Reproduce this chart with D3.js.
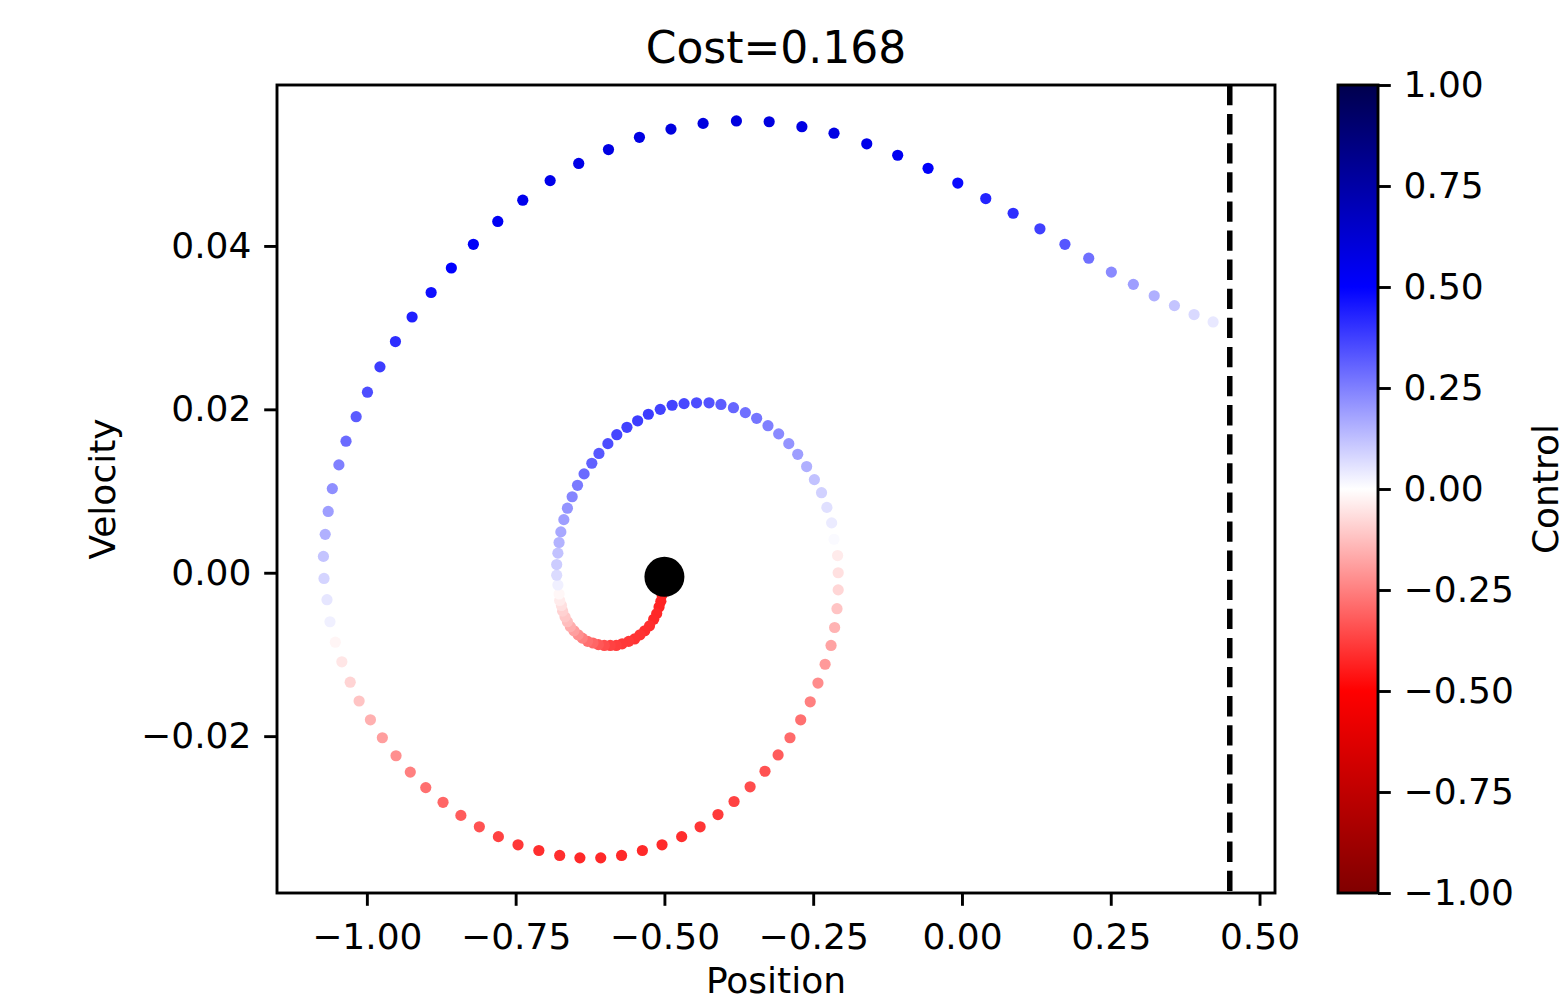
<!DOCTYPE html>
<html>
<head>
<meta charset="utf-8">
<script src="https://cdn.jsdelivr.net/npm/d3@7"></script>
<style>
body { margin: 0; background: #fff; }
text { font-family: "DejaVu Sans", sans-serif; fill: #000; }
</style>
</head>
<body>
<div id="chart"></div>
<script>
// trajectory: position, velocity, control per step
var positions = [
  -0.501, -0.501, -0.502, -0.502, -0.504, -0.506, -0.509, -0.513, -0.518, -0.525,
  -0.533, -0.541, -0.550, -0.560, -0.571, -0.581, -0.591, -0.601, -0.611, -0.620,
  -0.629, -0.638, -0.645, -0.652, -0.658, -0.663, -0.667, -0.671, -0.673, -0.676,
  -0.677,
  -0.679, -0.681, -0.681, -0.679, -0.677, -0.674, -0.669, -0.663, -0.655, -0.646,
  -0.635, -0.622, -0.610, -0.595, -0.580, -0.563, -0.545, -0.527, -0.507, -0.487,
  -0.467, -0.446, -0.425, -0.405, -0.384, -0.364, -0.345, -0.326, -0.308, -0.291,
  -0.276, -0.261, -0.248, -0.236, -0.227, -0.219, -0.215, -0.209, -0.208, -0.208,
  -0.210, -0.214, -0.220, -0.230, -0.242, -0.255, -0.271, -0.289, -0.309, -0.331,
  -0.356, -0.383, -0.410, -0.440, -0.471, -0.504, -0.537, -0.572, -0.607, -0.642,
  -0.676, -0.711, -0.746, -0.779, -0.811, -0.842, -0.872, -0.901, -0.927, -0.951,
  -0.974, -0.994, -1.013, -1.028, -1.042, -1.053, -1.062, -1.067, -1.072, -1.073,
  -1.070, -1.065, -1.058, -1.047, -1.035, -1.018, -0.999, -0.978, -0.952, -0.924,
  -0.892, -0.858, -0.821, -0.780, -0.738, -0.692, -0.644, -0.594, -0.542, -0.489,
  -0.435, -0.379, -0.324, -0.269, -0.215, -0.160, -0.108, -0.057, -0.007, 0.040,
  0.086, 0.131, 0.173, 0.213, 0.251, 0.288, 0.323, 0.357, 0.390, 0.422
];
var velocities = [
  -0.0005, -0.0009, -0.0014, -0.0020, -0.0027, -0.0035, -0.0042, -0.0050, -0.0057, -0.0065,
  -0.0071, -0.0076, -0.0081, -0.0084, -0.0087, -0.0089, -0.0089, -0.0089, -0.0088, -0.0086,
  -0.0084, -0.0080, -0.0076, -0.0071, -0.0066, -0.0060, -0.0054, -0.0047, -0.0040, -0.0034,
  -0.0026,
  -0.0015, -0.0003, 0.0010, 0.0024, 0.0037, 0.0050, 0.0065, 0.0079, 0.0093, 0.0107,
  0.0121, 0.0134, 0.0146, 0.0158, 0.0169, 0.0178, 0.0186, 0.0194, 0.0200, 0.0205,
  0.0207, 0.0208, 0.0208, 0.0206, 0.0202, 0.0196, 0.0189, 0.0180, 0.0170, 0.0158,
  0.0145, 0.0130, 0.0114, 0.0098, 0.0080, 0.0061, 0.0041, 0.0021, 0.0000, -0.0021,
  -0.0044, -0.0067, -0.0089, -0.0112, -0.0135, -0.0158, -0.0180, -0.0202, -0.0223, -0.0243,
  -0.0262, -0.0280, -0.0296, -0.0311, -0.0323, -0.0333, -0.0340, -0.0346, -0.0349, -0.0349,
  -0.0346, -0.0340, -0.0333, -0.0323, -0.0311, -0.0297, -0.0281, -0.0263, -0.0244, -0.0224,
  -0.0202, -0.0180, -0.0157, -0.0134, -0.0109, -0.0085, -0.0060, -0.0033, -0.0007, 0.0020,
  0.0047, 0.0075, 0.0103, 0.0132, 0.0161, 0.0191, 0.0221, 0.0252, 0.0283, 0.0313,
  0.0343, 0.0373, 0.0402, 0.0430, 0.0456, 0.0480, 0.0501, 0.0518, 0.0533, 0.0543,
  0.0550, 0.0553, 0.0552, 0.0546, 0.0538, 0.0525, 0.0511, 0.0495, 0.0477, 0.0458,
  0.0440, 0.0421, 0.0402, 0.0385, 0.0368, 0.0353, 0.0339, 0.0327, 0.0316, 0.0307
];
var controls = [
  -0.45, -0.45, -0.45, -0.44, -0.44, -0.43, -0.43, -0.42, -0.42, -0.41,
  -0.41, -0.40, -0.40, -0.39, -0.39, -0.38, -0.37, -0.35, -0.33, -0.30,
  -0.28, -0.25, -0.22, -0.19, -0.16, -0.13, -0.11, -0.09, -0.06, -0.04,
  -0.015,
  0.03, 0.07, 0.10, 0.12, 0.15, 0.17, 0.19, 0.21, 0.24, 0.26,
  0.29, 0.31, 0.33, 0.35, 0.36, 0.37, 0.38, 0.38, 0.37, 0.37,
  0.36, 0.35, 0.34, 0.32, 0.30, 0.28, 0.27, 0.25, 0.23, 0.21,
  0.19, 0.155, 0.12, 0.09, 0.06, 0.04, 0.01, -0.04, -0.06, -0.08,
  -0.115, -0.15, -0.18, -0.20, -0.225, -0.25, -0.28, -0.29, -0.32, -0.34,
  -0.35, -0.37, -0.385, -0.395, -0.41, -0.415, -0.42, -0.42, -0.42, -0.42,
  -0.41, -0.41, -0.39, -0.37, -0.34, -0.32, -0.30, -0.28, -0.25, -0.22,
  -0.19, -0.155, -0.115, -0.085, -0.05, -0.02, 0.03, 0.05, 0.085, 0.115,
  0.155, 0.19, 0.22, 0.25, 0.29, 0.32, 0.35, 0.38, 0.41, 0.44,
  0.47, 0.50, 0.52, 0.53, 0.55, 0.56, 0.57, 0.58, 0.58, 0.59,
  0.59, 0.59, 0.59, 0.58, 0.58, 0.56, 0.54, 0.51, 0.48, 0.43,
  0.41, 0.375, 0.33, 0.28, 0.23, 0.19, 0.155, 0.115, 0.075, 0.045
];

var startState = [-0.500, -0.0005];
var goalPosition = 0.45;
var costValue = 0.168;

var xLimits = [-1.151, 0.526];
var yLimits = [-0.0392, 0.0597];
var xTicks = [-1.00, -0.75, -0.50, -0.25, 0.00, 0.25, 0.50];
var yTicks = [-0.02, 0.00, 0.02, 0.04];
var cTicks = [-1.00, -0.75, -0.50, -0.25, 0.00, 0.25, 0.50, 0.75, 1.00];
// seismic_r stops
var cmapStops = [-1, -0.5, 0, 0.5, 1];
var cmapColors = ["#800000", "#ff0000", "#ffffff", "#0000ff", "#00004d"];

var svgWidth = 1566;
var svgHeight = 1002;
var plot = {left: 277, top: 85, right: 1275, bottom: 893};
var cbar = {left: 1338, right: 1378};
var lw = 2.9;
var tickLen = 12.8;
var fontSize = 36;

var svg = d3.select("#chart")
    .append("svg")
    .attr("width", svgWidth)
    .attr("height", svgHeight);

var xScale = d3.scaleLinear().domain(xLimits).range([plot.left, plot.right]);
var yScale = d3.scaleLinear().domain(yLimits).range([plot.bottom, plot.top]);
var colorScale = d3.scaleLinear().domain(cmapStops).range(cmapColors);
var fmt = d3.format(".2f");

var points = positions.map(function(p, i) {
    return {pos: p, vel: velocities[i], u: controls[i]};
});

svg.append("clipPath").attr("id", "plotClip")
    .append("rect")
    .attr("x", plot.left).attr("y", plot.top)
    .attr("width", plot.right - plot.left)
    .attr("height", plot.bottom - plot.top);

var plotGroup = svg.append("g").attr("clip-path", "url(#plotClip)");

plotGroup.selectAll("circle.step")
    .data(points)
    .enter()
    .append("circle")
    .attr("class", "step")
    .attr("cx", d => xScale(d.pos))
    .attr("cy", d => yScale(d.vel))
    .attr("r", 5.6)
    .attr("fill", d => colorScale(d.u));

plotGroup.append("circle")
    .attr("cx", xScale(startState[0]))
    .attr("cy", yScale(startState[1]))
    .attr("r", 20)
    .attr("fill", "#000");

plotGroup.append("line")
    .attr("x1", xScale(goalPosition)).attr("x2", xScale(goalPosition))
    .attr("y1", plot.top).attr("y2", plot.bottom)
    .attr("stroke", "#000")
    .attr("stroke-width", 5.5)
    .attr("stroke-dasharray", "20.3,8.8");

// axes
var xAxis = svg.append("g")
    .attr("transform", `translate(0,${plot.bottom})`)
    .call(d3.axisBottom(xScale).tickValues(xTicks).tickFormat(fmt)
        .tickSize(tickLen).tickPadding(tickLen));
var yAxis = svg.append("g")
    .attr("transform", `translate(${plot.left},0)`)
    .call(d3.axisLeft(yScale).tickValues(yTicks).tickFormat(fmt)
        .tickSize(tickLen).tickPadding(tickLen));

[xAxis, yAxis].forEach(function(g) {
    g.select(".domain").remove();
    g.selectAll(".tick line").attr("stroke", "#000").attr("stroke-width", lw);
    g.selectAll(".tick text")
        .attr("font-family", "DejaVu Sans, sans-serif")
        .attr("font-size", fontSize)
        .attr("fill", "#000");
});
xAxis.selectAll(".tick text").attr("y", tickLen * 2 + 5);

svg.append("rect")
    .attr("x", plot.left).attr("y", plot.top)
    .attr("width", plot.right - plot.left)
    .attr("height", plot.bottom - plot.top)
    .attr("fill", "none")
    .attr("stroke", "#000")
    .attr("stroke-width", lw);

// colorbar
var cScale = d3.scaleLinear().domain([-1, 1]).range([plot.bottom, plot.top]);
var grad = svg.append("defs").append("linearGradient")
    .attr("id", "cmap")
    .attr("x1", 0).attr("y1", 1).attr("x2", 0).attr("y2", 0);
grad.selectAll("stop")
    .data(cmapStops)
    .enter()
    .append("stop")
    .attr("offset", d => (d + 1) / 2)
    .attr("stop-color", d => colorScale(d));

svg.append("rect")
    .attr("x", cbar.left).attr("y", plot.top)
    .attr("width", cbar.right - cbar.left)
    .attr("height", plot.bottom - plot.top)
    .attr("fill", "url(#cmap)")
    .attr("stroke", "#000")
    .attr("stroke-width", lw);

var cAxis = svg.append("g")
    .attr("transform", `translate(${cbar.right},0)`)
    .call(d3.axisRight(cScale).tickValues(cTicks).tickFormat(fmt)
        .tickSize(tickLen).tickPadding(tickLen));
cAxis.select(".domain").remove();
cAxis.selectAll(".tick line").attr("stroke", "#000").attr("stroke-width", lw);
cAxis.selectAll(".tick text")
    .attr("font-family", "DejaVu Sans, sans-serif")
    .attr("font-size", fontSize)
    .attr("fill", "#000");

// labels
svg.append("text")
    .text("Cost=" + costValue)
    .attr("x", (plot.left + plot.right) / 2)
    .attr("y", 63)
    .attr("text-anchor", "middle")
    .attr("font-size", 44);

svg.append("text")
    .text("Position")
    .attr("x", (plot.left + plot.right) / 2)
    .attr("y", 993)
    .attr("text-anchor", "middle")
    .attr("font-size", fontSize);

svg.append("text")
    .text("Velocity")
    .attr("transform", `translate(115,${(plot.top + plot.bottom) / 2}) rotate(-90)`)
    .attr("text-anchor", "middle")
    .attr("font-size", fontSize);

svg.append("text")
    .text("Control")
    .attr("transform", `translate(1558,${(plot.top + plot.bottom) / 2}) rotate(-90)`)
    .attr("text-anchor", "middle")
    .attr("font-size", fontSize);
</script>
</body>
</html>
